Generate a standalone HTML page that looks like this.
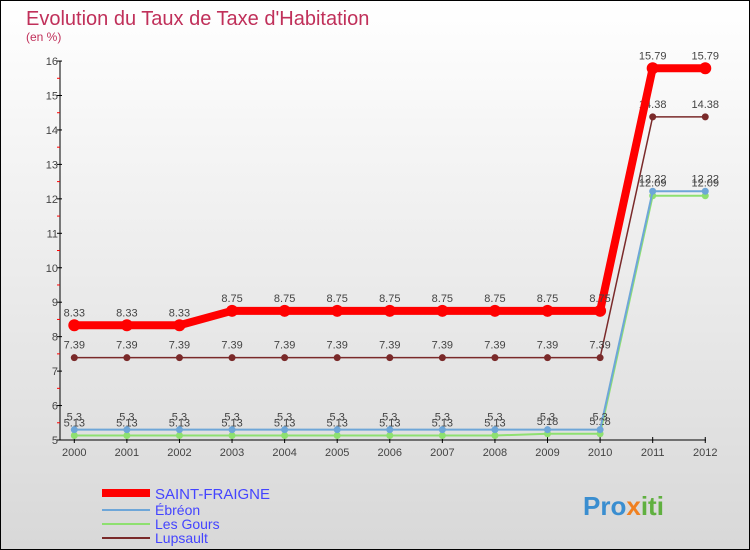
<!DOCTYPE html>
<html><head><meta charset="utf-8"><style>
html,body{margin:0;padding:0}
body{width:750px;height:550px;overflow:hidden;font-family:"Liberation Sans",sans-serif}
#wrap{position:absolute;left:0;top:0;width:748px;height:548px;border:1px solid #000;background:linear-gradient(#fff,#d8d8d8)}
</style></head><body>
<div id="wrap">
<svg id="chart" width="750" height="550" style="position:absolute;left:-1px;top:-1px">
<text x="26" y="25" font-size="20" fill="#c0305a">Evolution du Taux de Taxe d'Habitation</text>
<text x="26" y="41" font-size="12" fill="#c0305a">(en %)</text>
<g id="axes"></g><g id="series"></g>
<g>
<line x1="102" y1="493" x2="150" y2="493" stroke="#f00" stroke-width="8"/>
<text x="155" y="499" font-size="15" fill="#4444ff">SAINT-FRAIGNE</text>
<line x1="102" y1="510" x2="150" y2="510" stroke="#6ea6d8" stroke-width="2"/>
<text x="155" y="515" font-size="14" fill="#4444ff">Ébréon</text>
<line x1="102" y1="524" x2="150" y2="524" stroke="#8ee070" stroke-width="2"/>
<text x="155" y="529" font-size="14" fill="#4444ff">Les Gours</text>
<line x1="102" y1="538" x2="150" y2="538" stroke="#7a2a2a" stroke-width="2"/>
<text x="155" y="543" font-size="14" fill="#4444ff">Lupsault</text>
</g>
<text x="583" y="515" font-size="26" font-weight="bold" fill="#3a8ed0">Pro<tspan fill="#f08020">x</tspan><tspan fill="#60b040">iti</tspan></text>
</svg>
</div>
<script>
const years=[2000,2001,2002,2003,2004,2005,2006,2007,2008,2009,2010,2011,2012];
const yTicks=[5,6,7,8,9,10,11,12,13,14,15,16];
const saintFraigne=[8.33,8.33,8.33,8.75,8.75,8.75,8.75,8.75,8.75,8.75,8.75,15.79,15.79];
const ebreon=[5.3,5.3,5.3,5.3,5.3,5.3,5.3,5.3,5.3,5.3,5.3,12.22,12.22];
const lesGours=[5.13,5.13,5.13,5.13,5.13,5.13,5.13,5.13,5.13,5.18,5.18,12.09,12.09];
const lupsault=[7.39,7.39,7.39,7.39,7.39,7.39,7.39,7.39,7.39,7.39,7.39,14.38,14.38];
const NS="http://www.w3.org/2000/svg";
const x=i=>74.3+i*52.58;
const y=v=>440-(v-5)*34.45;
function mk(t,a,p){const e=document.createElementNS(NS,t);for(const k in a)e.setAttribute(k,a[k]);p.appendChild(e);return e;}
const ax=document.getElementById('axes');
let e=mk('line',{x1:60,y1:y(16),x2:60,y2:440,stroke:'#000'},ax);


e=mk('line',{x1:60,y1:440,x2:706,y2:440,stroke:'#000'},ax);


yTicks.forEach(v=>{
 mk('line',{x1:57,y1:y(v),x2:62,y2:y(v),stroke:'#000'},ax);
 if(v<16)mk('line',{x1:57,y1:y(v+0.5),x2:60,y2:y(v+0.5),stroke:'#f00'},ax);
 const t=mk('text',{x:58,y:y(v)+4,'font-size':11,fill:'#444','text-anchor':'end'},ax);t.textContent=v;
 
 
});
years.forEach((yr,i)=>{
 mk('line',{x1:x(i),y1:437,x2:x(i),y2:443,stroke:'#000'},ax);
 const t=mk('text',{x:x(i),y:456,'font-size':11,fill:'#444','text-anchor':'middle'},ax);t.textContent=yr;
 
 
});
const sg=document.getElementById('series');
function series(vals,color,w,r,name){
 const g=mk('g',{},sg);
 
 
 mk('polyline',{points:vals.map((v,i)=>x(i)+','+y(v)).join(' '),fill:'none',stroke:color,'stroke-width':w},g);
 vals.forEach((v,i)=>{
  const c=mk('circle',{cx:x(i),cy:y(v),r:r,fill:color},g);
  
  
  const t=mk('text',{x:x(i),y:y(v)-9,'font-size':11,fill:'#444','text-anchor':'middle'},g);t.textContent=v;
 });
}
series(lesGours,'#8ee070',2,3.5,'les-gours');
series(ebreon,'#6ea6d8',2,3.5,'ebreon');
series(lupsault,'#7a2a2a',1.5,3.5,'lupsault');
series(saintFraigne,'#f00',8,6,'saint-fraigne');
</script>
</body></html>
